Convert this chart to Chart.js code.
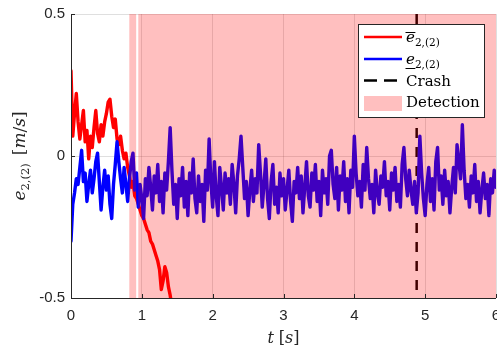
<!DOCTYPE html>
<html><head><meta charset="utf-8">
<script src="https://cdn.jsdelivr.net/npm/chart.js@4"></script>
<style>html,body{margin:0;padding:0;background:#fff;}canvas{display:block;}</style>
</head><body>
<canvas id="c" width="497" height="353"></canvas>
<script>
// ---- data ----
const sampleStep = 0.025;              // s between samples
const upperStart = 0;                  // e-bar series start time
const upperValues = [
 0.30,0.07,0.15,0.22,0.12,0.06,0.11,0.16,0.05,0.09,
 -0.01,0.07,0.03,0.10,0.16,0.08,0.05,0.11,0.07,0.12,
 0.15,0.19,0.20,0.14,0.10,0.13,0.06,0.04,0.07,0.02,
 -0.01,0.01,-0.04,-0.07,-0.11,-0.09,-0.14,-0.15,-0.17,-0.19,
 -0.21,-0.22,-0.24,-0.26,-0.27,-0.30,-0.31,-0.33,-0.35,-0.37,
 -0.40,-0.47,-0.44,-0.39,-0.41,-0.46,-0.49,-0.53,-0.56
];
const lowerStart = 0;                  // e-underline series start time
const lowerValues = [
 -0.30,-0.17,-0.13,-0.08,-0.10,-0.04,0.02,-0.09,-0.06,-0.16,
 -0.10,-0.05,-0.13,-0.08,-0.02,0.01,-0.09,-0.19,-0.11,-0.05,
 -0.12,-0.07,-0.17,-0.22,-0.10,-0.03,0.05,-0.02,-0.08,-0.13,
 -0.04,-0.10,-0.16,
 -0.08,-0.02,0.01,-0.12,-0.06,-0.18,-0.10,-0.15,
 -0.22,-0.08,-0.14,-0.04,-0.11,-0.19,-0.07,-0.13,
 -0.03,-0.16,-0.09,-0.20,-0.06,-0.12,-0.02,0.10,
 -0.05,-0.17,-0.10,-0.22,-0.08,-0.14,-0.04,-0.18,
 -0.09,-0.21,-0.06,-0.13,-0.01,-0.15,-0.20,-0.07,
 -0.16,-0.10,-0.23,-0.05,-0.12,0.06,-0.09,-0.18,
 -0.02,-0.14,-0.21,-0.04,-0.11,-0.19,-0.06,-0.13,
 -0.08,-0.17,-0.03,-0.10,-0.20,-0.07,-0.01,0.07,
 -0.04,-0.15,-0.09,-0.21,-0.12,-0.05,-0.16,-0.08,
 -0.13,0.04,-0.06,-0.18,-0.10,-0.01,-0.15,-0.22,
 -0.09,-0.03,-0.17,-0.11,-0.20,-0.06,-0.14,-0.08,
 -0.19,-0.12,-0.05,-0.16,-0.23,-0.09,-0.13,-0.04,
 -0.15,-0.07,-0.20,-0.11,-0.02,-0.14,-0.18,-0.06,
 -0.12,-0.03,-0.16,-0.09,-0.21,-0.05,-0.13,-0.08,
 -0.17,0.00,0.02,-0.10,-0.15,-0.04,-0.19,-0.07,
 -0.12,-0.02,-0.16,-0.08,-0.20,-0.05,-0.11,0.07,
 -0.06,-0.14,-0.09,-0.18,-0.03,-0.12,0.03,-0.08,
 -0.15,-0.10,-0.20,-0.05,-0.13,-0.17,-0.07,-0.11,
 -0.02,-0.14,-0.09,-0.19,-0.06,-0.12,-0.04,-0.16,
 -0.10,-0.18,-0.03,0.03,-0.08,-0.14,-0.05,-0.12,
 -0.17,-0.09,-0.20,-0.13,0.07,-0.06,-0.15,-0.21,
 -0.10,-0.04,-0.16,-0.08,-0.19,-0.02,0.03,-0.12,
 -0.07,-0.17,-0.05,-0.14,-0.09,-0.20,-0.11,-0.04,
 -0.13,0.04,-0.02,-0.08,0.11,-0.05,-0.15,-0.10,
 -0.18,-0.07,-0.13,-0.03,-0.16,-0.09,-0.20,-0.12,
 -0.06,-0.15,-0.10,-0.21,-0.08,-0.13,-0.05,-0.11
];
const crashTime = 4.88;
const crashRange = [0.5, -0.5];
const detectionIntervals = [[0.823, 0.92], [0.95, 6]];
const xTicks = [0, 1, 2, 3, 4, 5, 6];
const xTickLabels = ['0', '1', '2', '3', '4', '5', '6'];
const yTicks = [-0.5, 0, 0.5];
const yTickLabels = ['-0.5', '0', '0.5'];
const legendLabels = ['Crash', 'Detection'];

// ---- build ----
const toPoints = (start, vals) => vals.map((v, i) => ({x: +(start + i * sampleStep).toFixed(4), y: v}));
const INK = '#262626';
const SERIF = "'DejaVu Serif'";

function drawPieces(ctx, x, y, pieces) {
  let cx = x;
  const spans = [];
  pieces.forEach(p => {
    ctx.font = p.f;
    const w = ctx.measureText(p.t).width;
    ctx.fillText(p.t, cx, y + (p.dy || 0));
    spans.push([cx, w]);
    cx += w + (p.gap || 0);
  });
  return spans;
}
function piecesWidth(ctx, pieces) {
  let w = 0;
  pieces.forEach(p => { ctx.font = p.f; w += ctx.measureText(p.t).width + (p.gap || 0); });
  return w;
}

const overlay = {
  id: 'overlay',
  afterDatasetsDraw(chart) {
    const {ctx, chartArea: a, scales: {x, y}} = chart;
    ctx.save();
    // detection patches (translucent, drawn over the lines)
    ctx.fillStyle = 'rgba(255,0,0,0.25)';
    detectionIntervals.forEach(([s, e]) => {
      const x0 = x.getPixelForValue(s), x1 = x.getPixelForValue(e);
      ctx.fillRect(x0, a.top, x1 - x0, a.bottom - a.top);
    });
    // axes lines + inward ticks
    ctx.strokeStyle = INK; ctx.lineWidth = 1;
    ctx.beginPath();
    ctx.moveTo(a.left + 0.5, a.top); ctx.lineTo(a.left + 0.5, a.bottom + 0.5); ctx.lineTo(a.right, a.bottom + 0.5);
    xTicks.forEach(v => { const px = Math.round(x.getPixelForValue(v)) + 0.5; ctx.moveTo(px, a.bottom); ctx.lineTo(px, a.bottom - 4); });
    yTicks.forEach(v => { const py = Math.round(y.getPixelForValue(v)) + 0.5; ctx.moveTo(a.left, py); ctx.lineTo(a.left + 4, py); });
    ctx.stroke();
    ctx.restore();
  },
  afterDraw(chart) {
    const {ctx, chartArea: a} = chart;
    ctx.save();
    // legend
    const lx = 358.5, ly = 24.5, lw = 126, lh = 93;
    ctx.fillStyle = '#fff'; ctx.fillRect(lx, ly, lw, lh);
    ctx.strokeStyle = INK; ctx.lineWidth = 1; ctx.strokeRect(lx, ly, lw, lh);
    ctx.lineCap = 'butt';
    ctx.lineWidth = 2.5;
    ctx.strokeStyle = '#ff0000'; ctx.beginPath(); ctx.moveTo(364, 37); ctx.lineTo(402, 37); ctx.stroke();
    ctx.strokeStyle = '#0000ff'; ctx.beginPath(); ctx.moveTo(364, 59); ctx.lineTo(402, 59); ctx.stroke();
    ctx.strokeStyle = '#000'; ctx.setLineDash([13, 7]); ctx.beginPath(); ctx.moveTo(364, 80.5); ctx.lineTo(402, 80.5); ctx.stroke();
    ctx.setLineDash([]);
    ctx.fillStyle = 'rgba(255,0,0,0.25)'; ctx.fillRect(364, 96, 38, 15);
    ctx.fillStyle = '#000'; ctx.textBaseline = 'alphabetic'; ctx.textAlign = 'left';
    const eSub = [{t: 'e', f: `italic 15px ${SERIF}`}, {t: '2,(2)', f: `10.5px ${SERIF}`, dy: 4}];
    let sp = drawPieces(ctx, 406, 42, eSub);
    ctx.lineWidth = 1; ctx.strokeStyle = '#000';
    ctx.beginPath(); ctx.moveTo(sp[0][0] - 0.5, 32.5); ctx.lineTo(sp[0][0] + sp[0][1] + 0.5, 32.5); ctx.stroke();
    sp = drawPieces(ctx, 406, 63.5, eSub);
    ctx.beginPath(); ctx.moveTo(sp[0][0] - 0.5, 68.5); ctx.lineTo(sp[0][0] + sp[0][1] + 0.5, 68.5); ctx.stroke();
    ctx.font = `15px ${SERIF}`;
    ctx.fillText(legendLabels[0], 406, 85.5);
    ctx.fillText(legendLabels[1], 406, 106.5);
    // x axis title
    ctx.fillStyle = INK;
    const xt = [{t: 't', f: `italic 16px ${SERIF}`, gap: 5}, {t: '[', f: `16px ${SERIF}`}, {t: 's', f: `italic 16px ${SERIF}`}, {t: ']', f: `16px ${SERIF}`}];
    const xw = piecesWidth(ctx, xt);
    drawPieces(ctx, (a.left + a.right) / 2 - xw / 2, 343, xt);
    // y axis title (rotated)
    const yt = [{t: 'e', f: `italic 17px ${SERIF}`}, {t: '2,(2)', f: `11.5px ${SERIF}`, dy: 4, gap: 8}, {t: '[', f: `17px ${SERIF}`}, {t: 'm', f: `italic 17px ${SERIF}`}, {t: '/', f: `17px ${SERIF}`}, {t: 's', f: `italic 17px ${SERIF}`}, {t: ']', f: `17px ${SERIF}`}];
    const yw = piecesWidth(ctx, yt);
    ctx.translate(25, (a.top + a.bottom) / 2);
    ctx.rotate(-Math.PI / 2);
    drawPieces(ctx, -yw / 2, 0, yt);
    ctx.restore();
  }
};

new Chart(document.getElementById('c'), {
  type: 'line',
  data: {
    datasets: [
      {label: 'lower', data: toPoints(lowerStart, lowerValues), borderColor: '#0000ff', borderWidth: 3.4, pointRadius: 0, borderJoinStyle: 'round', borderCapStyle: 'round', clip: 0},
      {label: 'upper', data: toPoints(upperStart, upperValues), borderColor: '#ff0000', borderWidth: 3.4, pointRadius: 0, borderJoinStyle: 'round', borderCapStyle: 'round', clip: 0},
      {label: 'Crash', data: crashRange.map(v => ({x: crashTime, y: v})), borderColor: '#000', borderWidth: 2.5, borderDash: [10, 9], pointRadius: 0, clip: 0}
    ]
  },
  options: {
    responsive: false, animation: false, devicePixelRatio: 1,
    layout: {padding: {top: 14, right: 1, left: 0, bottom: 0}},
    plugins: {legend: {display: false}, tooltip: {enabled: false}},
    scales: {
      x: {
        type: 'linear', min: 0, max: 6,
        afterBuildTicks: s => { s.ticks = xTicks.map(v => ({value: v})); },
        afterFit: s => { s.height = 55; s.paddingLeft = 0; s.paddingRight = 0; },
        ticks: {callback: v => xTickLabels[xTicks.indexOf(v)], font: {family: 'Liberation Sans', size: 15}, color: INK, padding: 9, maxRotation: 0, autoSkip: false},
        grid: {color: 'rgba(38,38,38,0.15)', drawTicks: false},
        border: {display: false}
      },
      y: {
        type: 'linear', min: -0.5, max: 0.5,
        afterBuildTicks: s => { s.ticks = yTicks.map(v => ({value: v})); },
        afterFit: s => { s.width = 71; s.paddingTop = 0; s.paddingBottom = 0; },
        ticks: {callback: v => yTickLabels[yTicks.indexOf(v)], font: {family: 'Liberation Sans', size: 15}, color: INK, padding: 6, autoSkip: false},
        grid: {color: 'rgba(38,38,38,0.15)', drawTicks: false},
        border: {display: false}
      }
    }
  },
  plugins: [overlay]
});
</script>
</body></html>
